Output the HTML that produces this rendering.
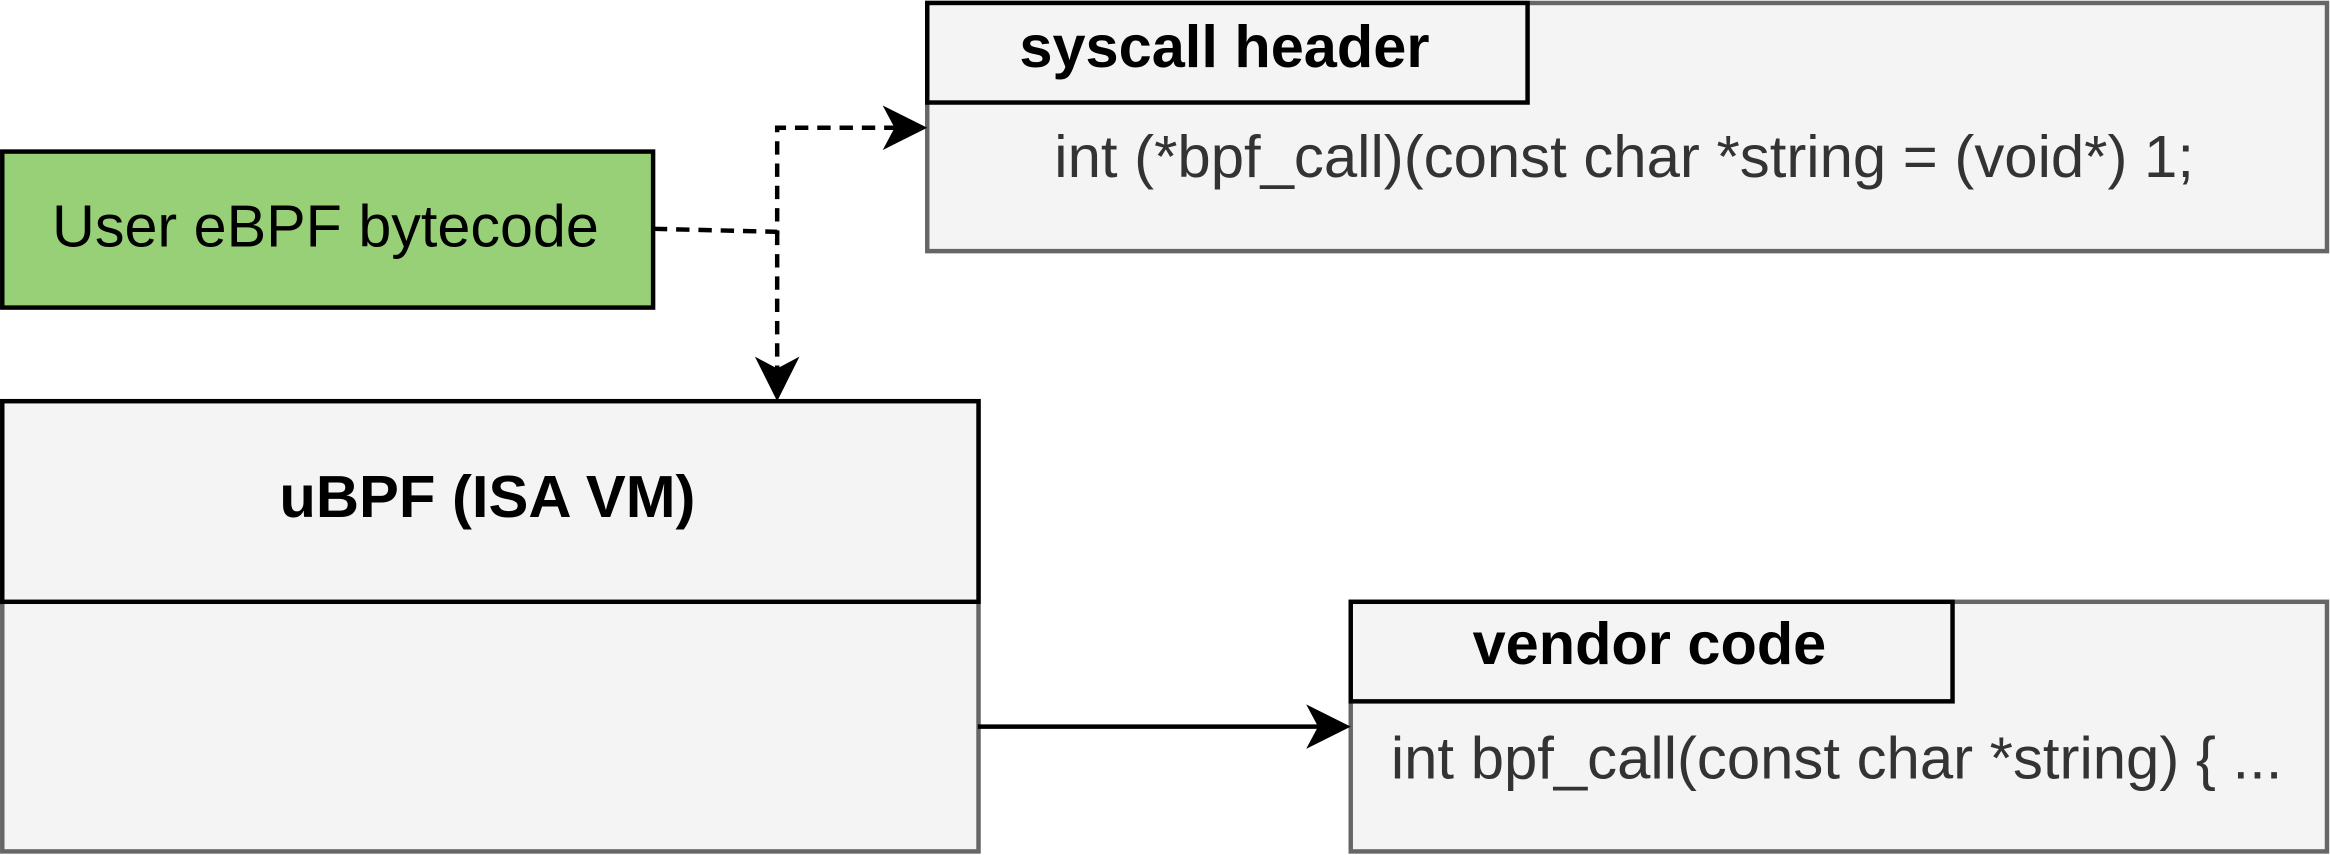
<!DOCTYPE html>
<html><head><meta charset="utf-8"><style>
html,body{margin:0;padding:0;background:#fff;}
svg{display:block;}
text{font-family:"Liberation Sans",sans-serif;}
</style></head><body>
<svg width="2330" height="855" viewBox="0 0 1568 575.4" xmlns="http://www.w3.org/2000/svg">
<!-- syscall -->
<rect x="624" y="2" width="942" height="167" fill="#f4f4f4" stroke="#666" stroke-width="3"/>
<rect x="624" y="2" width="404" height="67" fill="#f4f4f4" stroke="#000" stroke-width="3"/>
<text x="824" y="45" font-size="40" font-weight="bold" text-anchor="middle" textLength="276" lengthAdjust="spacingAndGlyphs">syscall header</text>
<text x="1093" y="119" font-size="40" fill="#333" text-anchor="middle" textLength="767" lengthAdjust="spacingAndGlyphs">int (*bpf_call)(const char *string = (void*) 1;</text>
<!-- green -->
<rect x="1.5" y="102" width="438" height="105" fill="#97d077" stroke="#000" stroke-width="3"/>
<text x="219" y="166" font-size="40" text-anchor="middle" textLength="368" lengthAdjust="spacingAndGlyphs">User eBPF bytecode</text>
<!-- uBPF -->
<rect x="1.5" y="270" width="657" height="303" fill="#f4f4f4" stroke="#666" stroke-width="3"/>
<rect x="1.5" y="270" width="657" height="135" fill="#f4f4f4" stroke="#000" stroke-width="3"/>
<text x="328" y="348" font-size="40" font-weight="bold" text-anchor="middle" textLength="280" lengthAdjust="spacingAndGlyphs">uBPF (ISA VM)</text>
<!-- vendor -->
<rect x="909" y="405" width="657" height="168" fill="#f4f4f4" stroke="#666" stroke-width="3"/>
<rect x="909" y="405" width="405" height="67" fill="#f4f4f4" stroke="#000" stroke-width="3"/>
<text x="1110" y="447" font-size="40" font-weight="bold" text-anchor="middle" textLength="238" lengthAdjust="spacingAndGlyphs">vendor code</text>
<text x="936" y="524" font-size="40" fill="#333" textLength="600" lengthAdjust="spacingAndGlyphs">int bpf_call(const char *string) { ...</text>
<!-- connectors -->
<path d="M440 154 L523 156 L523 86 L606 86" fill="none" stroke="#000" stroke-width="3" stroke-dasharray="9 6"/>
<path d="M523 156 L523 252" fill="none" stroke="#000" stroke-width="3" stroke-dasharray="9 6"/>
<path d="M624 86 L594 71 L602 86 L594 101 Z" fill="#000"/>
<path d="M523 270 L508 240 L523 248 L538 240 Z" fill="#000"/>
<path d="M658 489 L890 489" stroke="#000" stroke-width="3"/>
<path d="M909 489 L879 474 L887 489 L879 504 Z" fill="#000"/>
</svg>
</body></html>
